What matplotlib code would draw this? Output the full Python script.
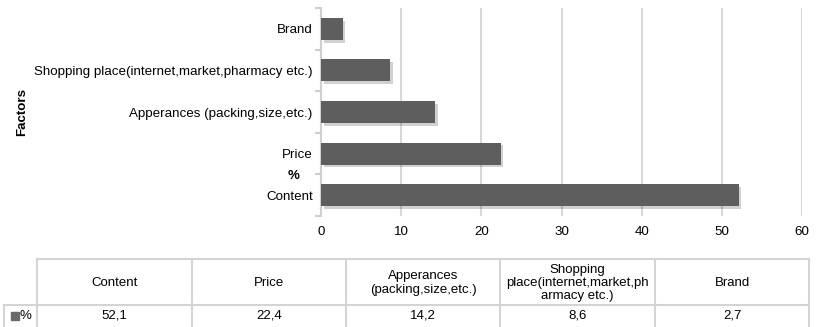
import matplotlib
matplotlib.use("Agg")
import matplotlib.pyplot as plt
import matplotlib.patheffects as pe
from matplotlib.lines import Line2D
from matplotlib.patches import Rectangle

plt.rcParams['font.family'] = ['Liberation Sans', 'DejaVu Sans']

categories = ["Content", "Price", "Apperances (packing,size,etc.)",
              "Shopping place(internet,market,pharmacy etc.)", "Brand"]
table_headers = ["Content", "Price", "Apperances\n(packing,size,etc.)",
                 "Shopping\nplace(internet,market,ph\narmacy etc.)", "Brand"]
values = [52.1, 22.4, 14.2, 8.6, 2.7]
series_name = "%"
xticks = [0, 10, 20, 30, 40, 50, 60]

W, H = 817, 327
fig = plt.figure(figsize=(W / 100, H / 100), dpi=100)

def fx(px):
    return px / W

def fy(py):
    return 1 - py / H

ax = fig.add_axes([fx(321), fy(216), fx(802) - fx(321), fy(8) - fy(216)])
ypos = list(range(len(categories)))
bars = ax.barh(ypos, values, height=0.53, color="#5e5e5e", zorder=3)
for b in bars:
    b.set_path_effects([pe.SimplePatchShadow(offset=(2, -2), shadow_rgbFace="#000000", alpha=0.18), pe.Normal()])

ax.set_xlim(0, 60)
ax.set_ylim(-0.5, len(categories) - 0.5)
ax.set_xticks(xticks)
ax.set_xticklabels([str(t) for t in xticks], fontsize=9.6)
ax.tick_params(axis='x', length=0, pad=7)
ax.set_yticks(ypos)
ax.set_yticklabels(categories, fontsize=9.6)
ax.tick_params(axis='y', which='major', length=0, pad=6)
ax.set_yticks([i - 0.5 for i in range(len(categories) + 1)], minor=True)
ax.tick_params(axis='y', which='minor', length=4, color="#cccccc", width=1.5)
ax.grid(axis='x', color="#d8d8d8", linewidth=1.5, zorder=0)
for s in ['top', 'right', 'bottom']:
    ax.spines[s].set_visible(False)
ax.spines['left'].set_color("#d0d0d0")
ax.spines['left'].set_linewidth(1.5)
fig.text(fx(22), fy(112), "Factors", rotation=90, fontsize=9.6, fontweight='bold',
         ha='center', va='center')
fig.text(fx(294), fy(176), series_name, fontsize=9.5, fontweight='bold', ha='center', va='center')

# Table
col_edges = [37, 192, 346, 500, 655, 809]
row_top, row_mid, row_bot = 259, 305, 340
lc = "#d4d4d4"
lw = 1.5
def hline(y, x0, x1):
    fig.add_artist(Line2D([fx(x0), fx(x1)], [fy(y), fy(y)], color=lc, lw=lw))
def vline(x, y0, y1):
    fig.add_artist(Line2D([fx(x), fx(x)], [fy(y0), fy(y1)], color=lc, lw=lw))

hline(row_top, col_edges[0], col_edges[-1])
hline(row_mid, 4, col_edges[-1])
for x in col_edges:
    vline(x, row_top, row_bot)
vline(4, row_mid, row_bot)

for i, (hd, v) in enumerate(zip(table_headers, values)):
    cx = (col_edges[i] + col_edges[i + 1]) / 2
    fig.text(fx(cx), fy(283), hd, fontsize=9.5, ha='center', va='center', linespacing=1.15)
    fig.text(fx(cx), fy(316), f"{v:.1f}".replace('.', ','), fontsize=9.5, ha='center', va='center')

fig.add_artist(Rectangle((fx(11), fy(320)), fx(8), fy(312) - fy(320), color="#6a6a6a",
                         transform=fig.transFigure))
fig.text(fx(20), fy(316), series_name, fontsize=9.5, ha='left', va='center')

fig.savefig("out.png", dpi=100)
